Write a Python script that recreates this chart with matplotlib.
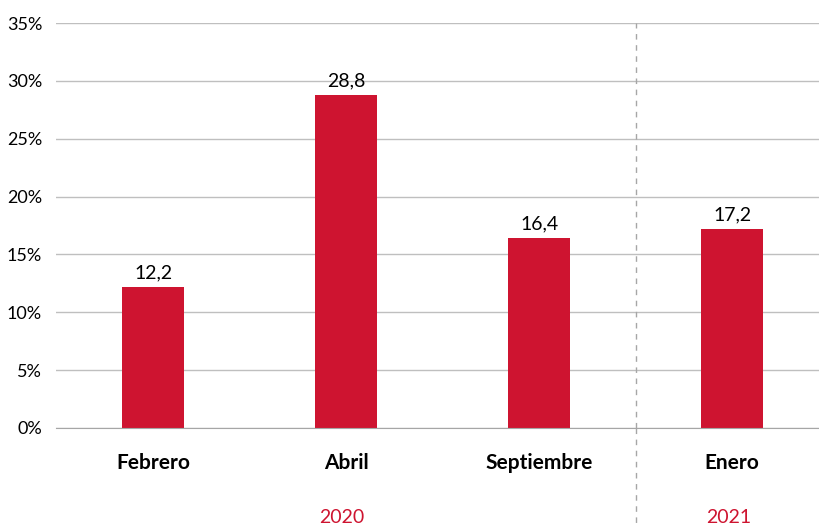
import matplotlib.pyplot as plt
from matplotlib.ticker import FuncFormatter

plt.rcParams['font.family'] = ['Lato', 'DejaVu Sans']

# data
months = ['Febrero', 'Abril', 'Septiembre', 'Enero']
values = [12.2, 28.8, 16.4, 17.2]
years = ['2020', '2021']
year_pos = [1, 3]   # center of each year group

red = '#CE1430'

fig = plt.figure(figsize=(8.19, 5.24), dpi=100)
ax = fig.add_axes([56 / 819, 1 - 428 / 524, 1 - 56 / 819, (428 - 23) / 524])

x = range(len(months))
ax.bar(x, values, width=0.32, color=red, zorder=3)
for xi, v in zip(x, values):
    ax.text(xi, v + 0.5, f"{v:.1f}".replace('.', ','), ha='center', va='bottom', fontsize=14)

ax.set_ylim(0, 35)
ax.set_yticks(range(0, 36, 5))
ax.yaxis.set_major_formatter(FuncFormatter(lambda v, p: f"{v:.0f}%"))
ax.set_xlim(-0.503, 3.45)
ax.grid(axis='y', color='#BFBFBF', linewidth=1, zorder=0)
ax.set_xticks(list(x))
ax.set_xticklabels(months, fontsize=15, fontweight='bold')
ax.tick_params(axis='x', length=0, pad=18)
ax.tick_params(axis='y', length=0, labelsize=13, pad=10)
for s in ['top', 'right', 'left']:
    ax.spines[s].set_visible(False)
ax.spines['bottom'].set_color('#A6A6A6')
ax.spines['bottom'].set_zorder(4)

# separator between years
ax.plot([2.5, 2.5], [0, 35], color='#A6A6A6', linestyle=(0, (4, 4)), linewidth=1, clip_on=False)
ax.plot([2.5, 2.5], [0, -8.6], color='#A6A6A6', linestyle=(0, (4, 4)), linewidth=1, clip_on=False)

for yp, yr in zip(year_pos, years):
    ax.text(yp - 0.02, -7.7, yr, ha='center', va='center', fontsize=14, color=red)

fig.savefig('out.png', dpi=100)
